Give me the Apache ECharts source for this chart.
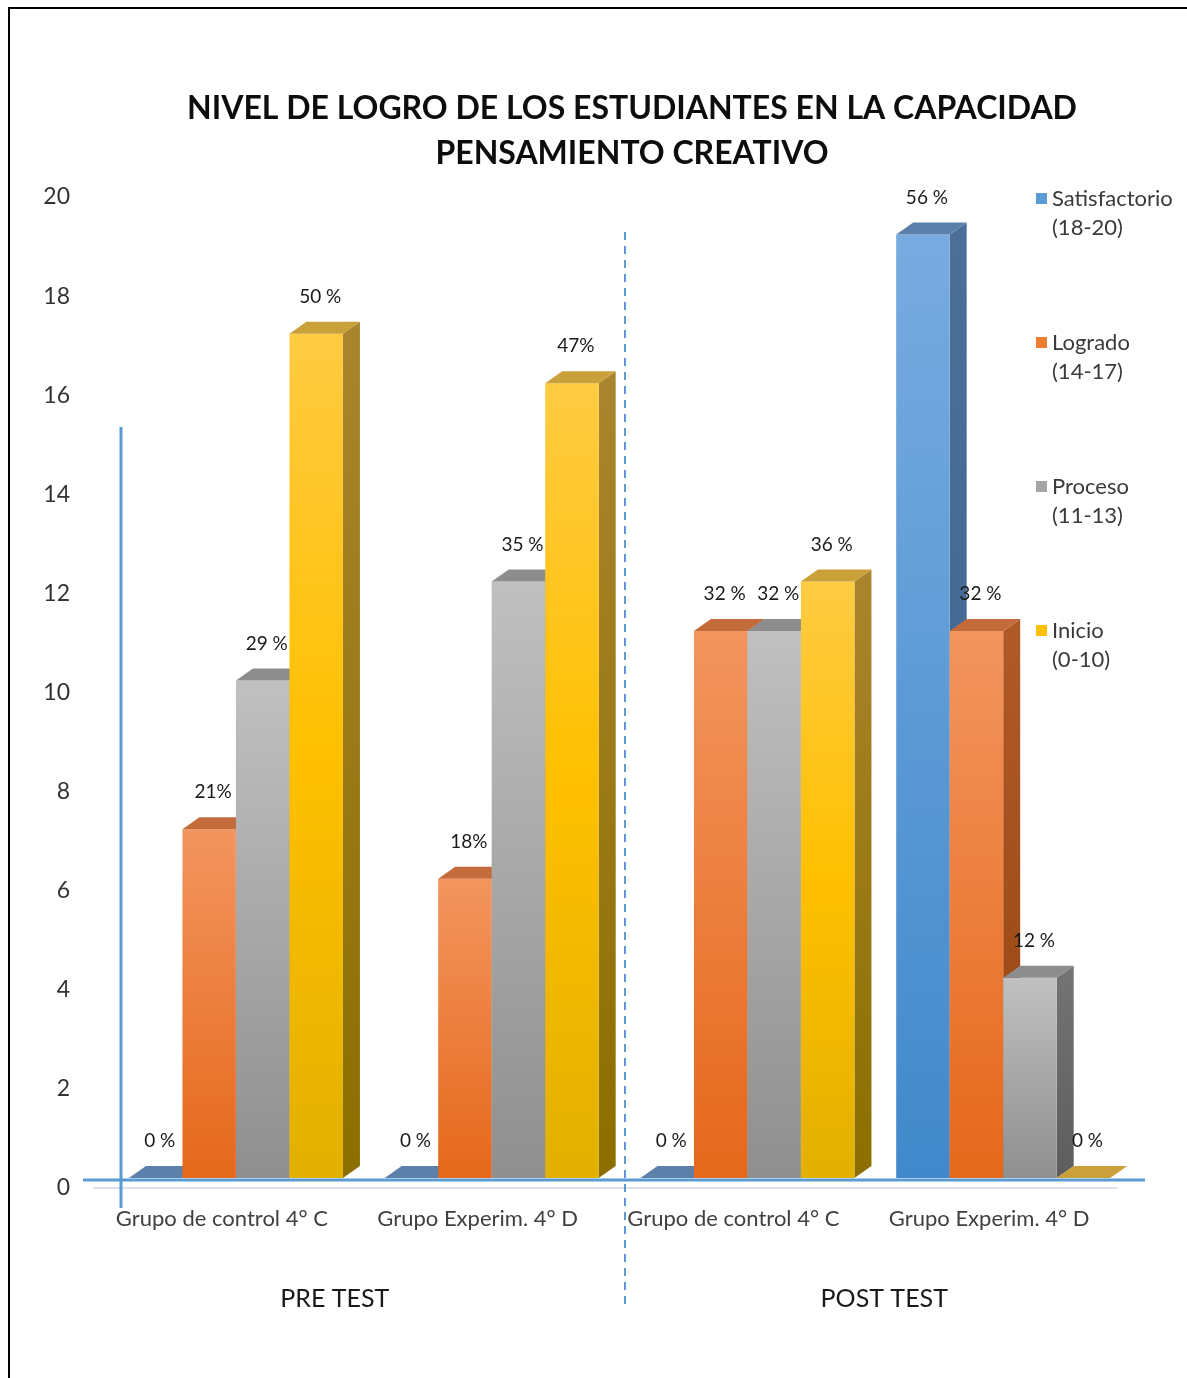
<!DOCTYPE html>
<html><head><meta charset="utf-8">
<script src="https://cdn.jsdelivr.net/npm/echarts@6.0.0/dist/echarts.min.js"></script>
<style>html,body{margin:0;padding:0;background:#fff}#c{width:1187px;height:1378px}</style>
</head><body><div id="c"></div>
<script>
// ---- data ----
const categories = ['Grupo de control 4° C', 'Grupo Experim. 4° D', 'Grupo de control 4° C', 'Grupo Experim. 4° D'];
const phases = ['PRE TEST', 'POST TEST'];
const seriesNames = ['Satisfactorio', 'Logrado', 'Proceso', 'Inicio'];
const seriesRanges = ['(18-20)', '(14-17)', '(11-13)', '(0-10)'];
const satisfactorio = [0, 0, 0, 19];
const logrado = [7, 6, 11, 11];
const proceso = [10, 12, 11, 4];
const inicio = [17, 16, 12, 0];
const satisfactorioLabels = ['0 %', '0 %', '0 %', '56 %'];
const logradoLabels = ['21%', '18%', '32 %', '32 %'];
const procesoLabels = ['29 %', '35 %', '32 %', '12 %'];
const inicioLabels = ['50 %', '47%', '36 %', '0 %'];
const yMin = 0, yMax = 20, yInterval = 2;

// ---- styles ----
const FONT = 'Lato, "Open Sans", sans-serif';
const palette = [
  { legend: '#5b9bd5', front: ['#78abe0', '#4189cb'], side: ['#4c6f97', '#3a6391'], top: '#5b81ab' },
  { legend: '#ed7d31', front: ['#f3955f', '#e5681b'], side: ['#b05a28', '#964410'], top: '#c46b3c' },
  { legend: '#a5a5a5', front: ['#c0c0c0', '#8f8f8f'], side: ['#747474', '#5d5d5d'], top: '#8d8d8d' },
  { legend: '#ffc000', front: ['#ffcb42', '#ffc000', '#e2b000'], side: ['#a9852d', '#8c6e00'], top: '#c9a03a' }
];
const valueSets = [satisfactorio, logrado, proceso, inicio];
const labelSets = [satisfactorioLabels, logradoLabels, procesoLabels, inicioLabels];

function grad(stops) {
  return {
    type: 'linear', x: 0, y: 0, x2: 0, y2: 1,
    colorStops: stops.map((c, i) => ({ offset: i / (stops.length - 1), color: c }))
  };
}

function makeRender(k) {
  const pal = palette[k];
  const labels = labelSets[k];
  return function (params, api) {
    const i = api.value(0), v = api.value(1);
    const base = api.coord([i, 0]);
    const topP = api.coord([i, v]);
    const band = api.size([1, 0])[0];
    const w = band * 0.2092;
    const shift = band * 0.055;
    const lift = 10, dx = 17, dy = 12;
    const x0 = base[0] + shift - 2 * w + k * w;
    const x1 = x0 + w;
    const yb = base[1] - lift;
    const yt = topP[1] - lift - 2;
    const children = [];
    if (yb - yt > 0.5 && v > 0) {
      children.push({
        type: 'polygon',
        shape: { points: [[x1, yt], [x1 + dx, yt - dy], [x1 + dx, yb - dy], [x1, yb]] },
        style: { fill: grad(pal.side) }
      });
      children.push({
        type: 'rect',
        shape: { x: x0, y: yt, width: w, height: yb - yt },
        style: { fill: grad(pal.front) }
      });
    }
    const ys = v > 0 ? yt : yb;
    children.push({
      type: 'polygon',
      shape: { points: [[x0, ys], [x0 + dx, ys - dy], [x1 + dx, ys - dy], [x1, ys]] },
      style: { fill: pal.top }
    });
    children.push({
      type: 'text',
      style: {
        text: labels[params.dataIndex],
        x: (x0 + x1) / 2 + 4, y: ys - 37,
        align: 'center', verticalAlign: 'middle',
        font: '19px ' + FONT, fill: '#1a1a1a'
      }
    });
    return { type: 'group', children };
  };
}

const series = seriesNames.map((name, k) => ({
  name,
  type: 'custom',
  xAxisIndex: 0, yAxisIndex: 0,
  itemStyle: { color: palette[k].legend },
  renderItem: makeRender(k),
  encode: { x: 0, y: 1 },
  data: valueSets[k].map((v, i) => [i, v]),
  z: 2 + k
}));

const chart = echarts.init(document.getElementById('c'), null, { renderer: 'canvas' });
chart.setOption({
  animation: false,
  backgroundColor: '#fff',
  title: {
    text: 'NIVEL DE LOGRO DE LOS ESTUDIANTES EN LA CAPACIDAD\nPENSAMIENTO CREATIVO',
    left: 632, top: 86, textAlign: 'center', padding: 0,
    textStyle: { fontFamily: FONT, fontWeight: 'bold', fontSize: 32, lineHeight: 45, color: '#0d0d0d' }
  },
  legend: {
    orient: 'vertical', left: 1036, top: 155, padding: 0,
    itemWidth: 11, itemHeight: 11, itemGap: 57, icon: 'rect',
    data: seriesNames,
    formatter: name => '\n' + name + '\n' + seriesRanges[seriesNames.indexOf(name)],
    textStyle: { fontFamily: FONT, fontSize: 22, lineHeight: 29, color: '#3a3a3a' }
  },
  grid: { left: 94, right: 70, top: 197, bottom: 190, containLabel: false },
  xAxis: [
    {
      type: 'category', data: categories, position: 'bottom',
      axisLine: { show: true, lineStyle: { color: '#dde1ea', width: 2 } },
      axisTick: { show: false },
      axisLabel: { margin: 20, fontFamily: FONT, fontSize: 22, color: '#404040', interval: 0 },
      splitLine: { show: false }
    },
    {
      type: 'category', data: phases, position: 'bottom', offset: 0,
      axisLine: { show: false }, axisTick: { show: false }, splitLine: { show: false },
      axisLabel: {
        margin: 98, interval: 0,
        formatter: (val, idx) => idx === 0 ? '{a|' + val + '}' : '{b|' + val + '}',
        rich: {
          a: { fontFamily: FONT, fontSize: 25, color: '#1a1a1a', padding: [0, 30, 0, 0] },
          b: { fontFamily: FONT, fontSize: 25, color: '#1a1a1a', padding: [0, 0, 0, 46] }
        }
      }
    }
  ],
  yAxis: {
    type: 'value', min: yMin, max: yMax, interval: yInterval,
    axisLine: { show: false }, axisTick: { show: false }, splitLine: { show: false },
    axisLabel: { margin: 24, fontFamily: FONT, fontSize: 23, color: '#333333' }
  },
  graphic: [
    { type: 'rect', shape: { x: 9, y: 8, width: 1200, height: 1400 }, style: { fill: 'none', stroke: '#000', lineWidth: 2 }, z: 100 },
    { type: 'line', shape: { x1: 121, y1: 427, x2: 121, y2: 1208 }, style: { stroke: '#5b9bd5', lineWidth: 3 }, z: 50 },
    { type: 'line', shape: { x1: 83, y1: 1180, x2: 1145, y2: 1180 }, style: { stroke: '#5b9bd5', lineWidth: 3 }, z: 50 },
    { type: 'line', shape: { x1: 625, y1: 232, x2: 625, y2: 1310 }, style: { stroke: '#5b9bd5', lineWidth: 2, lineDash: [8, 6] }, z: 50 }
  ],
  series
});
</script></body></html>
